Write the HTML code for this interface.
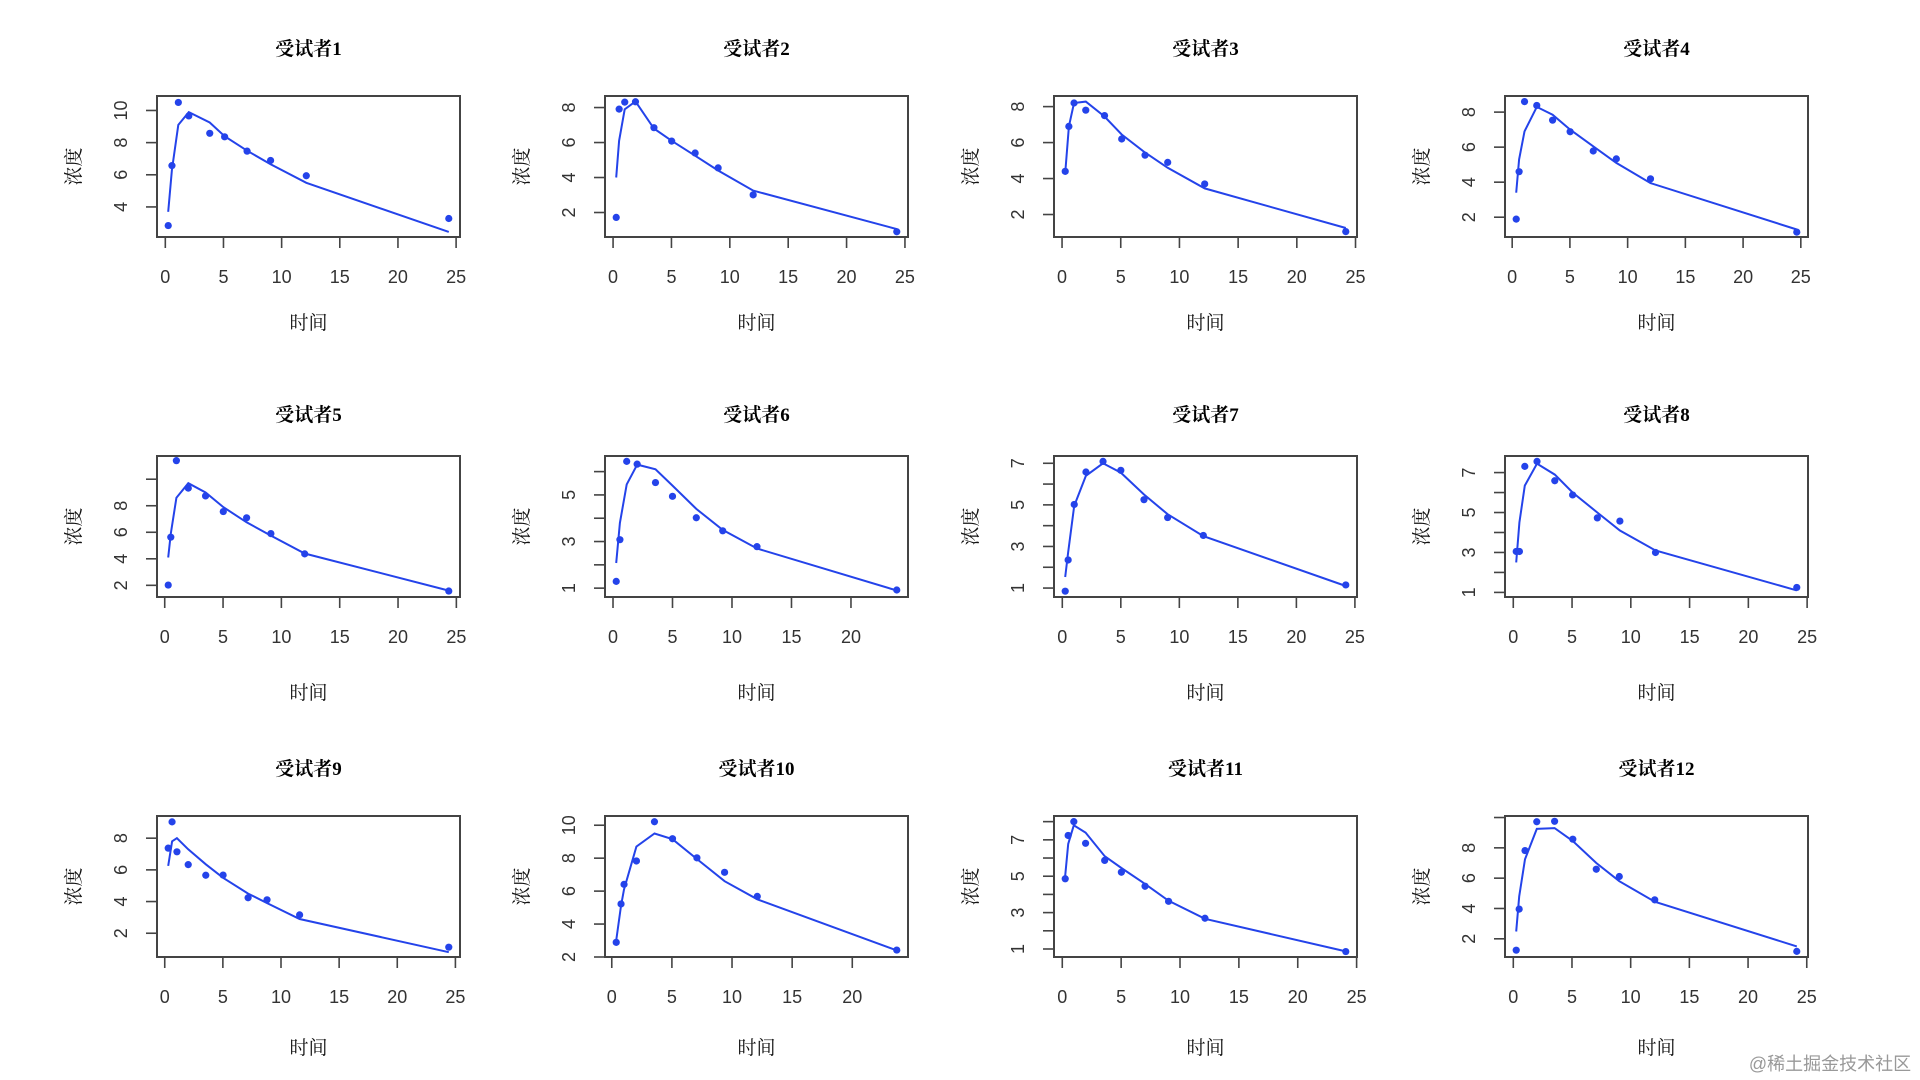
<!DOCTYPE html>
<html><head><meta charset="utf-8">
<style>
html,body{margin:0;padding:0;background:#fff;width:1920px;height:1080px;overflow:hidden}
svg{display:block}
.t{font-family:"Liberation Serif","Noto Serif CJK SC",serif;font-weight:bold;font-size:19px;fill:#000}
.lab{font-family:"Liberation Serif","Noto Serif CJK SC",serif;font-size:19px;fill:#111}
.tick{font-family:"Liberation Sans","DejaVu Sans",sans-serif;font-size:18px;fill:#333}
</style></head>
<body>
<svg id="chart" width="1920" height="1080" viewBox="0 0 1920 1080">
<text x="1830" y="1070" text-anchor="middle" style="font-family:'Liberation Sans','Noto Sans CJK SC',sans-serif;font-size:18px;fill:#999">@稀土掘金技术社区</text>
</svg>
<script>
// ----- data (Theoph-like subjects) -----
const subjects = ["受试者1","受试者2","受试者3","受试者4","受试者5","受试者6","受试者7","受试者8","受试者9","受试者10","受试者11","受试者12"];
const times1=[0.25,0.57,1.12,2.02,3.82,5.10,7.03,9.05,12.12,24.37];
const conc1=[2.84,6.57,10.50,9.66,8.58,8.36,7.47,6.89,5.94,3.28];
const fit1=[3.7,6.3,9.1,9.9,9.25,8.4,7.5,6.65,5.5,2.45];
const times2=[0.27,0.52,1,1.92,3.5,5.02,7.03,9,12,24.3];
const conc2=[1.72,7.91,8.31,8.33,6.85,6.08,5.40,4.55,3.01,0.90];
const fit2=[4.0,6.1,7.9,8.35,6.8,6.1,5.25,4.4,3.25,1.05];
const times3=[0.27,0.58,1.02,2.02,3.62,5.08,7.07,9,12.15,24.17];
const conc3=[4.40,6.90,8.20,7.80,7.50,6.20,5.30,4.90,3.70,1.05];
const fit3=[4.3,6.9,8.2,8.28,7.45,6.45,5.45,4.6,3.45,1.25];
const times4=[0.35,0.6,1.07,2.13,3.5,5.02,7.02,9.02,11.98,24.65];
const conc4=[1.89,4.60,8.60,8.38,7.54,6.88,5.78,5.33,4.19,1.15];
const fit4=[3.4,5.3,6.9,8.3,7.85,7.0,6.05,5.1,3.95,1.3];
const times5=[0.3,0.52,1,2.02,3.5,5.02,7.02,9.1,12,24.35];
const conc5=[2.02,5.63,11.40,9.33,8.74,7.56,7.09,5.90,4.37,1.57];
const fit5=[4.1,5.9,8.6,9.7,9.0,7.9,6.75,5.75,4.4,1.6];
const times6=[0.27,0.58,1.15,2.03,3.57,5,7,9.22,12.1,23.85];
const conc6=[1.29,3.08,6.44,6.32,5.53,4.94,4.02,3.46,2.78,0.92];
const fit6=[2.08,3.8,5.45,6.3,6.1,5.4,4.4,3.5,2.7,0.9];
const times7=[0.25,0.5,1.02,2.02,3.48,5,6.98,9,12.05,24.22];
const conc7=[0.85,2.35,5.02,6.58,7.09,6.66,5.25,4.39,3.53,1.15];
const fit7=[1.53,2.7,4.95,6.4,7.0,6.55,5.5,4.55,3.5,1.1];
const times8=[0.25,0.52,0.98,2.02,3.53,5.05,7.15,9.07,12.1,24.12];
const conc8=[3.05,3.05,7.31,7.56,6.59,5.88,4.73,4.57,3.00,1.25];
const fit8=[2.5,4.5,6.35,7.45,6.9,6.0,5.0,4.1,3.1,1.1];
const times9=[0.3,0.63,1.05,2.02,3.53,5.02,7.17,8.8,11.6,24.43];
const conc9=[7.37,9.03,7.14,6.33,5.66,5.67,4.24,4.11,3.16,1.12];
const fit9=[6.25,7.8,8.0,7.3,6.35,5.5,4.5,3.9,2.9,0.8];
const times10=[0.37,0.77,1.02,2.05,3.55,5.05,7.08,9.38,12.1,23.7];
const conc10=[2.89,5.22,6.41,7.83,10.21,9.18,8.02,7.14,5.68,2.42];
const fit10=[3.0,5.1,6.1,8.7,9.5,9.15,7.95,6.6,5.5,2.4];
const times11=[0.25,0.5,0.98,1.98,3.6,5.02,7.03,9.03,12.12,24.08];
const conc11=[4.86,7.24,8.00,6.81,5.87,5.22,4.45,3.62,2.69,0.86];
const fit11=[5.03,6.77,7.8,7.4,6.1,5.45,4.58,3.65,2.66,0.87];
const times12=[0.25,0.5,1,2,3.52,5.07,7.07,9.03,12.05,24.15];
const conc12=[1.25,3.96,7.82,9.72,9.75,8.57,6.59,6.11,4.57,1.17];
const fit12=[2.48,4.8,7.25,9.25,9.3,8.45,7.0,5.8,4.45,1.5];
const allTimes=[times1,times2,times3,times4,times5,times6,times7,times8,times9,times10,times11,times12];
const allConc=[conc1,conc2,conc3,conc4,conc5,conc6,conc7,conc8,conc9,conc10,conc11,conc12];
const allFit=[fit1,fit2,fit3,fit4,fit5,fit6,fit7,fit8,fit9,fit10,fit11,fit12];
// axis ranges and ticks
const yMins=[2.13,0.6,0.75,0.87,1.12,0.62,0.57,0.77,0.5,2.0,0.56,0.8];
const yMaxs=[10.9,8.66,8.59,8.92,11.75,6.67,7.35,7.83,9.4,10.56,8.31,10.1];
const yTicks=[[4,6,8,10],[2,4,6,8],[2,4,6,8],[2,4,6,8],[2,4,6,8,10],[1,2,3,4,5,6],[1,2,3,4,5,6,7],[1,2,3,4,5,6,7],[2,4,6,8],[2,4,6,8,10],[1,2,3,4,5,6,7,8],[2,4,6,8,10]];
const yTickLabels=[[4,6,8,10],[2,4,6,8],[2,4,6,8],[2,4,6,8],[2,4,6,8],[1,3,5],[1,3,5,7],[1,3,5,7],[2,4,6,8],[2,4,6,8,10],[1,3,5,7],[2,4,6,8]];
const xTicksA=[0,5,10,15,20,25];
const xTicksB=[0,5,10,15,20];

const NS="http://www.w3.org/2000/svg";
const svg=document.getElementById('chart');
const colLeft=[157,605,1054,1505], rowTop=[96,456,816], W=303, H=141;
const titleY=[48,414,768], xTickY=[276,636,996], xLabY=[322,692,1047];
function mk(tag,attrs,parent){const e=document.createElementNS(NS,tag);for(const k in attrs)e.setAttribute(k,attrs[k]);(parent||svg).appendChild(e);return e;}
const BLUE="#2443ea";

for(let i=0;i<12;i++){
  const r=Math.floor(i/4), c=i%4;
  const L=colLeft[c], T=rowTop[r], B=T+H, R=L+W;
  const ts=allTimes[i], cs=allConc[i], fs=allFit[i];
  const tmin=Math.min(...ts), tmax=Math.max(...ts), pad=(tmax-tmin)*0.04;
  const x0=tmin-pad, x1=tmax+pad;
  const sx=v=>L+(v-x0)/(x1-x0)*W;
  const sy=v=>B-(v-yMins[i])/(yMaxs[i]-yMins[i])*H;
  const g=mk('g',{});
  
  
  const title=mk('text',{x:L+W/2,y:titleY[r]+7,'text-anchor':'middle',class:'t'},g);
  title.textContent=subjects[i];
  
  
  const clipId='clip'+i;
  const cp=mk('clipPath',{id:clipId},g);
  mk('rect',{x:L,y:T-6,width:W,height:H+6},cp);
  // fitted line
  const pts=ts.map((t,k)=>sx(t).toFixed(1)+','+sy(fs[k]).toFixed(1)).join(' ');
  const line=mk('polyline',{points:pts,fill:'none',stroke:BLUE,'stroke-width':2,'clip-path':'url(#'+clipId+')'},g);
  
  
  // points
  ts.forEach((t,k)=>{
    const p=mk('circle',{cx:sx(t),cy:sy(cs[k]),r:3.6,fill:BLUE},g);
    
    
  });
  // box
  const box=mk('rect',{x:L,y:T,width:W,height:H,fill:'none',stroke:'#444','stroke-width':2},g);
  
  
  // x axis ticks
  const xt=tmax>24?xTicksA:xTicksB;
  xt.forEach(v=>{
    const x=sx(v);
    const tk=mk('line',{x1:x,x2:x,y1:B,y2:B+11,stroke:'#444','stroke-width':1.6},g);
    
    
    const tl=mk('text',{x:x,y:xTickY[r]+7,'text-anchor':'middle',class:'tick'},g);
    tl.textContent=v;
    
    
  });
  // y axis ticks
  yTicks[i].forEach(v=>{
    const y=sy(v);
    const tk=mk('line',{x1:L-11,x2:L,y1:y,y2:y,stroke:'#444','stroke-width':1.6},g);
    
    
  });
  yTickLabels[i].forEach(v=>{
    const y=sy(v);
    const tl=mk('text',{x:0,y:0,'text-anchor':'middle',class:'tick',transform:'translate('+(L-30)+','+y+') rotate(-90)'},g);
    tl.textContent=v;
    
    
  });
  const xl=mk('text',{x:L+W/2,y:xLabY[r]+7,'text-anchor':'middle',class:'lab'},g);
  xl.textContent='时间';
  
  
  const yl=mk('text',{x:0,y:0,'text-anchor':'middle',class:'lab',transform:'translate('+(L-77)+','+(T+H/2)+') rotate(-90)'},g);
  yl.textContent='浓度';
  
  
}
</script>
</body></html>
